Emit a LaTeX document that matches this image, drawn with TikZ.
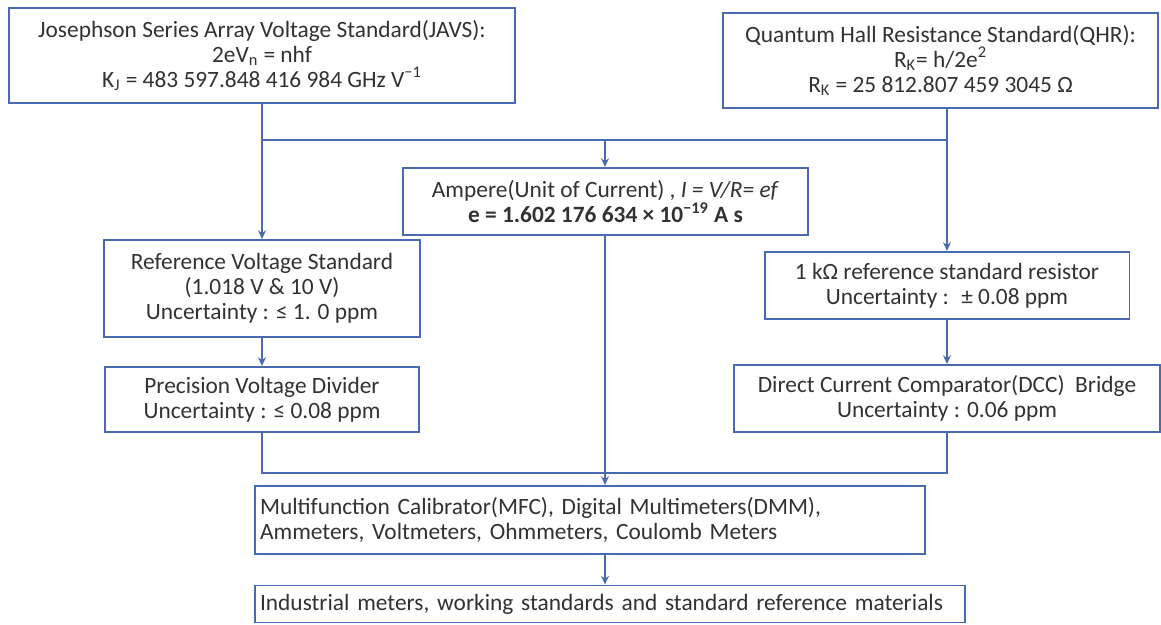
\documentclass[tikz,border=0pt]{standalone}
\usepackage{fontspec}
\setmainfont{Carlito}
\usetikzlibrary{arrows.meta}
\definecolor{lineblue}{RGB}{74,106,176}
\definecolor{txtgray}{RGB}{50,50,50}
\tikzset{
  box/.style={draw=lineblue, line width=1.1pt, fill=white, text=txtgray, align=center,
    font=\fontsize{13.3}{14.2}\selectfont},
  leftbox/.style={box, align=left, inner xsep=0.1cm},
  link/.style={draw=lineblue, line width=1.1pt}
}
\begin{document}
\begin{tikzpicture}[x=0.02cm, y=-0.02cm, >={Stealth[length=5pt,width=4.5pt]}]
  \useasboundingbox (0,0) rectangle (1161,625);
  \node[box, minimum width=10.12cm, minimum height=1.9cm] (javs) at (262,55.5)
    {Josephson Series Array Voltage Standard(JAVS):\\ 2eV\textsubscript{n} = nhf\\
     K\textsubscript{J} = 483 597.848 416 984 GHz V\textsuperscript{−1}};
  \node[box, minimum width=8.7cm, minimum height=1.9cm] (qhr) at (940.5,60.5)
    {Quantum Hall Resistance Standard(QHR):\\ R\textsubscript{K}= h/2e\textsuperscript{2}\\
     R\textsubscript{K} = 25 812.807 459 3045 Ω};
  \node[box, minimum width=8.1cm, minimum height=1.34cm] (amp) at (605.5,201.5)
    {Ampere(Unit of Current) , \textit{I = V/R= ef}\\
     \textbf{e = 1.602 176 634 × 10\textsuperscript{−19} A s}};
  \node[box, minimum width=6.32cm, minimum height=1.94cm] (rvs) at (262,288.5)
    {Reference Voltage Standard\\ (1.018 V \& 10 V)\\ Uncertainty : ≤ 1. 0 ppm};
  \node[box, minimum width=6.28cm, minimum height=1.3cm] (pvd) at (262,399.5)
    {Precision Voltage Divider\\ Uncertainty : ≤ 0.08 ppm};
  \node[box, minimum width=7.3cm, minimum height=1.34cm] (res) at (947,285.5)
    {1 kΩ reference standard resistor\\ Uncertainty :~ ± 0.08 ppm};
  \node[box, minimum width=8.54cm, minimum height=1.34cm] (dcc) at (947,398.5)
    {Direct Current Comparator(DCC)~ Bridge\\ Uncertainty : 0.06 ppm};
  \node[leftbox, text width=13.2cm, minimum height=1.36cm] (mfc) at (590,520)
    {Multifunction Calibrator(MFC), Digital Multimeters(DMM),\\
     Ammeters, Voltmeters, Ohmmeters, Coulomb Meters};
  \node[leftbox, text width=14cm, minimum height=0.74cm] (ind) at (610,604)
    {Industrial meters, working standards and standard reference materials};
  \coordinate (tl) at (262,140);
  \coordinate (tm) at (605,140);
  \coordinate (tr) at (947,140);
  \coordinate (bl) at (262,473);
  \coordinate (br) at (947,473);
  \draw[link] (javs.south) -- (tl) -- (tr) -- (qhr.south -| tr);
  \draw[link,->] (tm) -- (tm |- amp.north);
  \draw[link,->] (tl) -- (rvs.north);
  \draw[link,->] (tr) -- (res.north);
  \draw[link,->] (rvs) -- (pvd);
  \draw[link,->] (res) -- (dcc);
  \draw[link] (pvd.south) -- (bl) -- (br) -- (dcc.south);
  \draw[link,->] (tm |- amp.south) -- (tm |- mfc.north);
  \draw[link,->] (tm |- mfc.south) -- (tm |- ind.north);
\end{tikzpicture}
\end{document}
